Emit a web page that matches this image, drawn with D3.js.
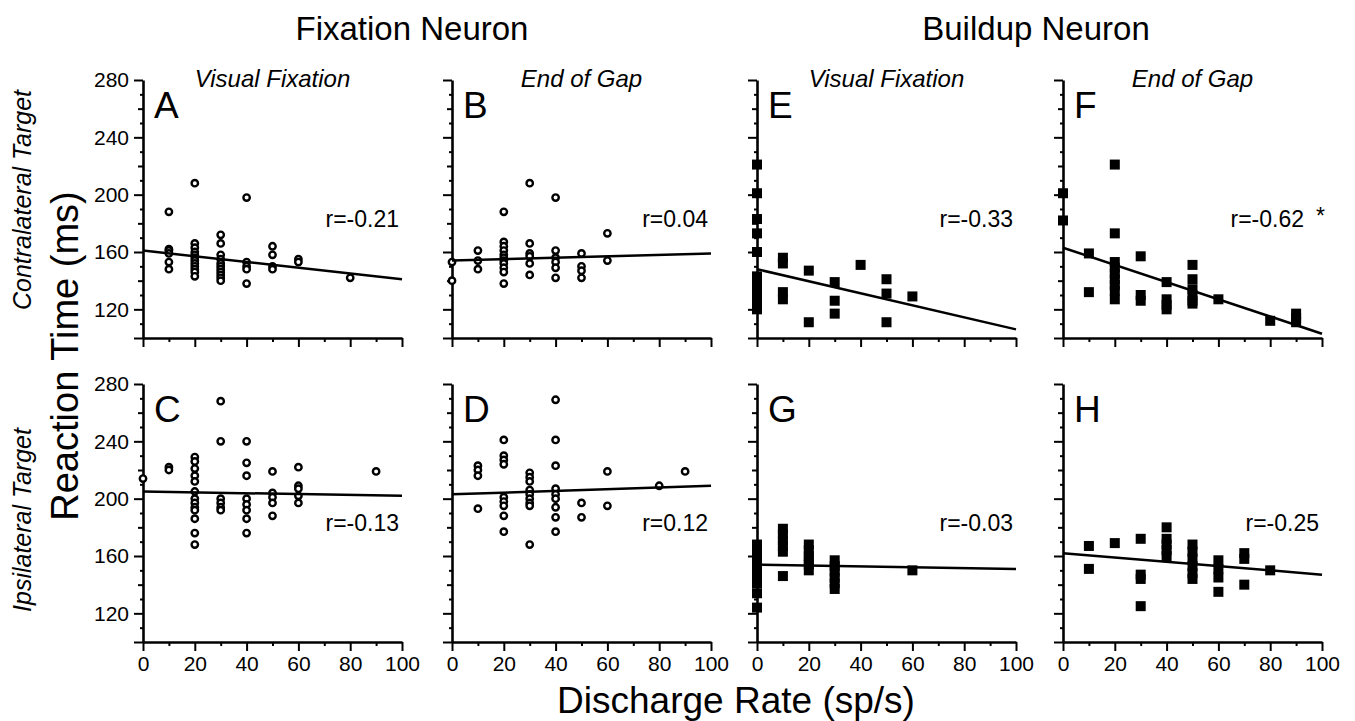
<!DOCTYPE html>
<html>
<head>
<meta charset="utf-8">
<script src="https://cdn.jsdelivr.net/npm/d3@7"></script>
<style>
  body { margin: 0; background: #fff; }
  text { font-family: "Liberation Sans", Arial, Helvetica, sans-serif; fill: #000; }
</style>
</head>
<body>
<svg id="chart" width="1355" height="721"></svg>
<script>
// ---- data ----
const groupTitles = ["Fixation Neuron", "Buildup Neuron"];
const colTitles = ["Visual Fixation", "End of Gap", "Visual Fixation", "End of Gap"];
const rowTitles = ["Contralateral Target", "Ipsilateral Target"];
const panelLetters = ["A", "B", "E", "F", "C", "D", "G", "H"];
const rLabels = ["r=-0.21", "r=0.04", "r=-0.33", "r=-0.62", "r=-0.13", "r=0.12", "r=-0.03", "r=-0.25"];
const significant = [false, false, false, true, false, false, false, false];
const xTickLabels = [0, 20, 40, 60, 80, 100];
const yTickLabels = [120, 160, 200, 240, 280];

// regression line: reaction time at 0 and at 100 sp/s
const fitA = [161, 141];
const fitB = [154, 159];
const fitE = [148, 106];
const fitF = [163, 103];
const fitC = [205, 202];
const fitD = [203, 209];
const fitG = [154, 151];
const fitH = [162, 147];

// [discharge rate, [reaction times...]]
const dataA = [
  [10, [188, 162, 161, 159, 153, 148]],
  [20, [208, 166, 163, 160, 158, 156, 154, 152, 150, 148, 146, 143]],
  [30, [172, 166, 158, 155, 152, 150, 148, 146, 144, 142, 140]],
  [40, [198, 153, 150, 148, 138]],
  [50, [164, 158, 150, 148]],
  [60, [155, 153]],
  [80, [142]]
];
const dataB = [
  [0, [153, 140]],
  [10, [161, 154, 148]],
  [20, [188, 167, 164, 161, 158, 156, 154, 152, 149, 146, 138]],
  [30, [208, 166, 159, 157, 152, 144]],
  [40, [198, 161, 156, 153, 149, 142]],
  [50, [159, 150, 147, 142]],
  [60, [173, 154]]
];
const dataE = [
  [0, [221, 201, 183, 173, 160, 143, 140, 137, 134, 131, 128, 125, 122, 120]],
  [10, [156, 152, 132, 127]],
  [20, [147, 111]],
  [30, [139, 126, 117]],
  [40, [151]],
  [50, [141, 131, 111]],
  [60, [129]]
];
const dataF = [
  [0, [201, 182]],
  [10, [159, 132]],
  [20, [221, 173, 153, 149, 145, 141, 137, 133, 127]],
  [30, [157, 130, 126]],
  [40, [139, 127, 123, 120]],
  [50, [151, 141, 134, 130, 126, 124]],
  [60, [127]],
  [80, [112]],
  [90, [117, 114, 111]]
];
const dataC = [
  [0, [214]],
  [10, [222, 220]],
  [20, [229, 226, 221, 216, 212, 205, 200, 197, 194, 192, 186, 176, 168]],
  [30, [268, 240, 200, 197, 194, 192]],
  [40, [240, 225, 216, 200, 196, 192, 186, 176]],
  [50, [219, 204, 201, 197, 188]],
  [60, [222, 209, 207, 202, 197]],
  [90, [219]]
];
const dataD = [
  [10, [223, 220, 216, 193]],
  [20, [241, 230, 227, 224, 201, 198, 195, 188, 177]],
  [30, [218, 215, 212, 206, 203, 200, 197, 195, 168]],
  [40, [269, 241, 223, 207, 203, 200, 194, 187, 177]],
  [50, [197, 187]],
  [60, [219, 195]],
  [80, [209]],
  [90, [219]]
];
const dataG = [
  [0, [168, 164, 160, 157, 153, 149, 145, 141, 134, 124]],
  [10, [179, 175, 171, 167, 163, 146]],
  [20, [168, 164, 160, 157, 154, 150]],
  [30, [157, 153, 149, 145, 141, 137]],
  [60, [150]]
];
const dataH = [
  [10, [167, 151]],
  [20, [169]],
  [30, [172, 147, 144, 125]],
  [40, [180, 172, 168, 164, 160]],
  [50, [168, 163, 158, 153, 148, 144]],
  [60, [157, 151, 145, 135]],
  [70, [162, 158, 140]],
  [80, [150]]
];

const panelData = [dataA, dataB, dataE, dataF, dataC, dataD, dataG, dataH];
const panelFits = [fitA, fitB, fitE, fitF, fitC, fitD, fitG, fitH];

// ---- layout ----
const svg = d3.select("#chart");
const colX = [143, 452, 757, 1063];
const rowY = [80, 384];
const W = 259, H = 258;

const x = d3.scaleLinear().domain([0, 100]).range([0, W]);
const y = d3.scaleLinear().domain([100, 280]).range([H, 0]);

panelData.forEach((data, i) => {
  const col = i % 4, row = Math.floor(i / 4);
  const g = svg.append("g").attr("transform", `translate(${colX[col]},${rowY[row]})`);
  const square = col >= 2;

  // y axis
  const yAxis = d3.axisLeft(y)
    .tickValues(d3.range(100, 281, 10))
    .tickSizeInner(3)
    .tickSizeOuter(0)
    .tickPadding(13)
    .tickFormat((v) => (col === 0 && yTickLabels.includes(v) ? v : ""));
  const ya = g.append("g").call(yAxis);
  ya.selectAll(".tick line")
    .attr("x2", (v) => (v % 40 === 0 || v === 100 ? -9 : v % 20 === 0 ? -5 : -3))
    .attr("stroke-width", 2);
  ya.selectAll(".tick text").attr("x", -14);

  // x axis
  const xAxis = d3.axisBottom(x)
    .tickValues(d3.range(0, 101, 10))
    .tickSizeInner(4)
    .tickSizeOuter(0)
    .tickPadding(10)
    .tickFormat((v) => (row === 1 && xTickLabels.includes(v) ? v : ""));
  const xa = g.append("g").attr("transform", `translate(0,${H})`).call(xAxis);
  xa.selectAll(".tick line")
    .attr("y2", (v) => (v % 20 === 0 ? 9 : 4))
    .attr("stroke-width", 2);

  g.selectAll(".domain").attr("stroke-width", 2.6);
  g.selectAll(".tick text")
    .attr("font-size", "21px")
    .attr("font-family", '"Liberation Sans", Arial, Helvetica, sans-serif');

  // points
  const pts = data.flatMap(([rate, rts]) => rts.map((rt) => ({ rate, rt })));
  if (square) {
    g.selectAll(".pt").data(pts).enter().append("rect")
      .attr("class", "pt")
      .attr("x", (d) => x(d.rate) - 5)
      .attr("y", (d) => y(d.rt) - 5)
      .attr("width", 10)
      .attr("height", 10)
      .attr("fill", "#000");
  } else {
    g.selectAll(".pt").data(pts).enter().append("circle")
      .attr("class", "pt")
      .attr("cx", (d) => x(d.rate))
      .attr("cy", (d) => y(d.rt))
      .attr("r", 3.2)
      .attr("fill", "#fff")
      .attr("stroke", "#000")
      .attr("stroke-width", 2.4);
  }

  // regression line
  const fit = panelFits[i];
  g.append("line")
    .attr("x1", x(0)).attr("y1", y(fit[0]))
    .attr("x2", x(100)).attr("y2", y(fit[1]))
    .attr("stroke", "#000")
    .attr("stroke-width", 2.5);

  // panel letter
  g.append("text")
    .attr("x", 11)
    .attr("y", 38)
    .attr("font-size", "37px")
    .text(panelLetters[i]);

  // r value
  const rt = g.append("text")
    .attr("x", x(100) + (significant[i] ? 3 : -3))
    .attr("y", 147)
    .attr("text-anchor", "end")
    .attr("font-size", "23px")
    .text(rLabels[i]);
  if (significant[i]) rt.append("tspan").attr("dx", 12).attr("dy", -3).text("*");

  // column subtitle
  if (row === 0) {
    g.append("text")
      .attr("x", W / 2)
      .attr("y", 7)
      .attr("text-anchor", "middle")
      .attr("font-size", "24px")
      .attr("font-style", "italic")
      .text(colTitles[col]);
  }
});

// group titles
[412, 1036].forEach((cx, k) => {
  svg.append("text")
    .attr("x", cx)
    .attr("y", 40)
    .attr("text-anchor", "middle")
    .attr("font-size", "33px")
    .text(groupTitles[k]);
});

// row titles
[200, 520].forEach((cy, k) => {
  svg.append("text")
    .attr("transform", `translate(31,${cy}) rotate(-90)`)
    .attr("text-anchor", "middle")
    .attr("font-size", "25px")
    .attr("font-style", "italic")
    .text(rowTitles[k]);
});

// axis titles
svg.append("text")
  .attr("transform", "translate(78,356) rotate(-90)")
  .attr("text-anchor", "middle")
  .attr("font-size", "38px")
  .text("Reaction Time (ms)");

svg.append("text")
  .attr("x", 736)
  .attr("y", 713)
  .attr("text-anchor", "middle")
  .attr("font-size", "37px")
  .text("Discharge Rate (sp/s)");
</script>
</body>
</html>
